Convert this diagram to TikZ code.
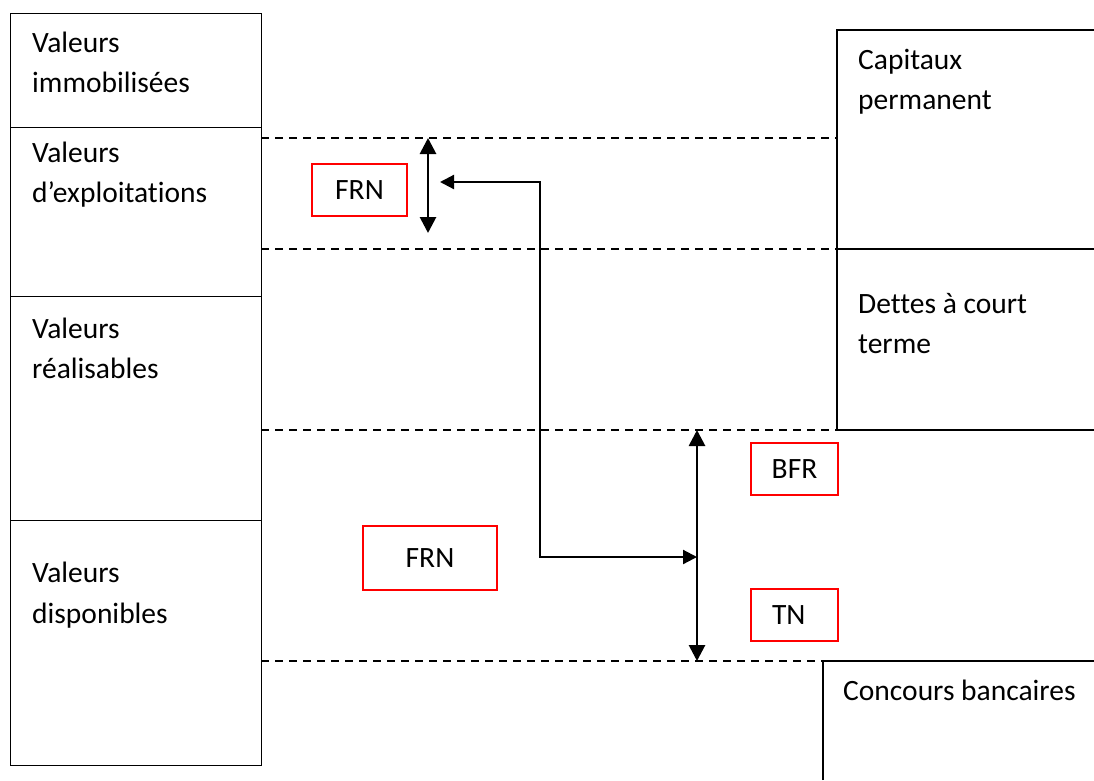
\documentclass[tikz,border=0pt]{standalone}
\usepackage{fontspec}
\setmainfont{Carlito}[Ligatures=NoCommon]
\usetikzlibrary{arrows.meta}
\begin{document}
\begin{tikzpicture}[x=1pt,y=-1pt,
  box/.style={draw, line width=1.4pt, rectangle, inner sep=0pt, anchor=north west},
  lbl/.style={anchor=base west, inner sep=0pt, font=\fontsize{29.5}{40}\selectfont},
  redbox/.style={draw=red, line width=1.5pt, rectangle, inner sep=0pt, font=\fontsize{29.5}{40}\selectfont},
  dashline/.style={line width=1.8pt, dash pattern=on 8pt off 6pt},
  conn/.style={line width=2.2pt},
  dbl/.style={line width=2.8pt, {Triangle[length=16pt,width=16pt]}-{Triangle[length=16pt,width=16pt]}},
  wall/.style={line width=1.4pt}
]
\useasboundingbox (0,0) rectangle (1094,780);
% left column
\node[box, minimum width=251pt, minimum height=114pt] (vi) at (10,13) {};
\node[box, minimum width=251pt, minimum height=169pt] (ve) at (10,127) {};
\node[box, minimum width=251pt, minimum height=224pt] (vr) at (10,296) {};
\node[box, minimum width=251pt, minimum height=245pt] (vd) at (10,520) {};
\node[lbl] (vi1) at (32,52) {Valeurs};
\node[lbl] (vi2) at (32,92) {immobilisées};
\node[lbl] (ve1) at (32,162) {Valeurs};
\node[lbl] (ve2) at (32,202) {d’exploitations};
\node[lbl] (vr1) at (32,338) {Valeurs};
\node[lbl] (vr2) at (32,378) {réalisables};
\node[lbl] (vd1) at (32,582) {Valeurs};
\node[lbl] (vd2) at (32,623) {disponibles};
% right column
\coordinate (cpTL) at (837,30);
\coordinate (cpTR) at (1094,30);
\coordinate (cpM) at (837,249);
\coordinate (cpMR) at (1094,249);
\coordinate (dtB) at (837,430);
\coordinate (dtBR) at (1094,430);
\coordinate (cbTL) at (823,661);
\coordinate (cbTR) at (1094,661);
\coordinate (cbBL) at (823,780);
\draw[wall] (dtB) -- (cpTL) -- (cpTR);
\draw[wall] (cpM) -- (cpMR);
\draw[wall] (dtB) -- (dtBR);
\draw[wall] (cbBL) -- (cbTL) -- (cbTR);
\node[lbl] (cp1) at (858,69) {Capitaux};
\node[lbl] (cp2) at (858,109) {permanent};
\node[lbl] (dt1) at (858,313) {Dettes à court};
\node[lbl] (dt2) at (858,353) {terme};
\node[lbl] (cb1) at (843,700) {Concours bancaires};
% dashed lines
\coordinate (d1L) at (261,138);
\coordinate (d1R) at (837,138);
\coordinate (d2L) at (261,249);
\coordinate (d3L) at (261,430);
\coordinate (d4L) at (261,661);
\draw[dashline] (d1L) -- (d1R);
\draw[dashline] (d2L) -- (cpM);
\draw[dashline] (d3L) -- (dtB);
\draw[dashline] (d4L) -- (cbTL);
% red boxes
\node[redbox, minimum width=95pt, minimum height=52pt] (frn1) at (359.5,190) {FRN};
\node[redbox, minimum width=134pt, minimum height=64pt] (frn2) at (430,558) {FRN};
\node[redbox, minimum width=87pt, minimum height=52pt] (bfr) at (794.5,469) {BFR};
\node[redbox, minimum width=87pt, minimum height=52pt, text width=87pt, align=left] (tn) at (794.5,615) {\hspace*{21pt}TN};
% arrows
\coordinate (a1T) at (428,138);
\coordinate (a1B) at (428,233);
\draw[dbl] (a1T) -- (a1B);
\coordinate (a2T) at (697,430);
\coordinate (a2B) at (697,661);
\draw[dbl] (a2T) -- (a2B);
\coordinate (cL) at (440,182);
\coordinate (c1) at (540,182);
\coordinate (c2) at (540,557);
\coordinate (cR) at (697,557);
\draw[conn, {Triangle[length=14pt,width=14pt]}-{Triangle[length=14pt,width=14pt]}] (cL) -- (c1) -- (c2) -- (cR);
\end{tikzpicture}
\end{document}
